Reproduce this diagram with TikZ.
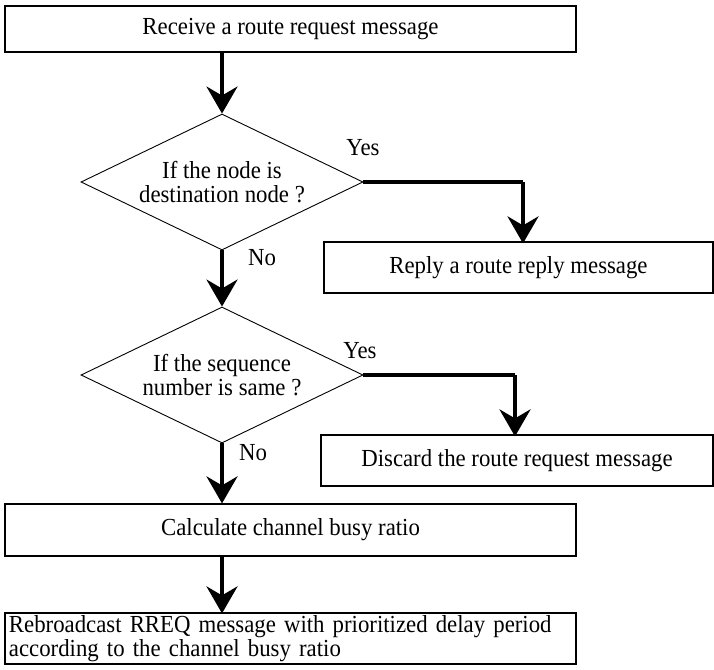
\documentclass[tikz,border=0pt]{standalone}
\usepackage{fontspec}
\setmainfont{Liberation Serif}[FakeStretch=0.93]
\usetikzlibrary{arrows.meta,shapes.geometric}
\begin{document}
\begin{tikzpicture}[x=1pt,y=-1pt,
  every node/.style={font=\fontsize{24.5}{23.3}\selectfont},
  procbox/.style={draw, line width=1.2pt, inner sep=0pt, align=center},
  decision/.style={draw, diamond, line width=0.9pt, inner sep=0pt,
    minimum width=282pt, minimum height=136pt},
  qtext/.style={align=center, inner sep=0pt},
  answer/.style={inner sep=0pt},
  flow/.style={line width=3.8pt, -{Stealth[length=27pt,width=31pt,inset=9pt]}},
  branch/.style={line width=3.8pt}]
\useasboundingbox (0,0) rectangle (714,669);

% process boxes
\node[procbox, minimum width=571pt, minimum height=46pt] (recv) at (290.5,29)
  {Receive a route request message};
\node[procbox, minimum width=389pt, minimum height=51pt] (reply) at (518.5,267.5)
  {Reply a route reply message};
\node[procbox, minimum width=392pt, minimum height=51pt] (discard) at (517,460.5)
  {Discard the route request message};
\node[procbox, minimum width=571pt, minimum height=52pt] (calc) at (290.5,530)
  {Calculate channel busy ratio};
\node[procbox, minimum width=571pt, minimum height=51pt, text width=563pt,
  align=left, inner xsep=4pt, font=\fontsize{24.5}{17.5}\selectfont] (rebro) at (290.5,638.5)
  {Rebroadcast RREQ message with prioritized delay period\\according to the channel busy ratio};

% decisions
\node[decision] (dest) at (222,182) {};
\node[qtext] (destq) at (dest.center) {If the node is\\destination node ?};
\node[decision] (seq) at (222,375) {};
\node[qtext] (seqq) at (seq.center) {If the sequence\\number is same ?};

% branch labels
\node[answer] (yes1) at (363,148) {Yes};
\node[answer] (no1) at (262,258) {No};
\node[answer] (yes2) at (360,351) {Yes};
\node[answer] (no2) at (253,453) {No};

% corners of the Yes branches
\coordinate (k1) at (523,182);
\coordinate (k2) at (515,375);

% connectors
\draw[flow] (recv.south -| dest.north) -- (dest.north);
\draw[flow] (dest.south) -- (seq.north);
\draw[flow] (seq.south) -- (calc.north -| seq.south);
\draw[flow] (calc.south -| dest.north) -- ([yshift=-1pt]rebro.north -| dest.north);
\draw[branch] (dest.east) -- (k1);
\draw[flow] (k1) -- ([yshift=-2pt]k1 |- reply.north);
\draw[branch] (seq.east) -- (k2);
\draw[flow] (k2) -- ([yshift=-2pt]k2 |- discard.north);
\end{tikzpicture}
\end{document}
